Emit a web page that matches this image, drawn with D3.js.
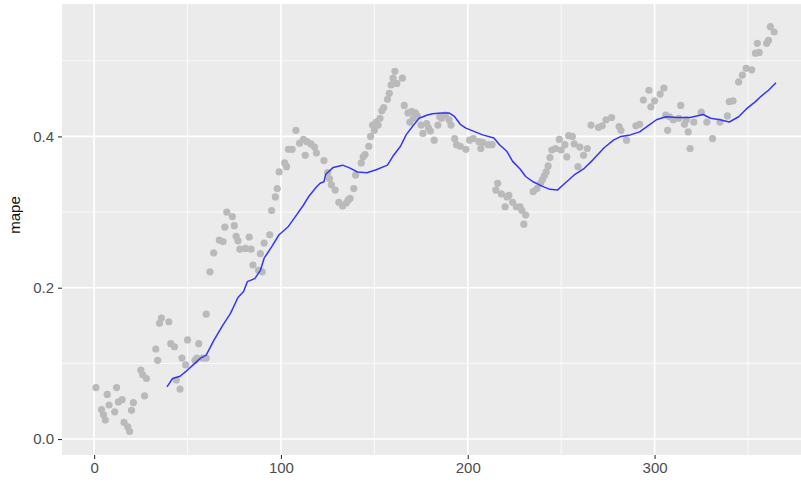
<!DOCTYPE html>
<html>
<head>
<meta charset="utf-8">
<script src="https://cdn.jsdelivr.net/npm/d3@7"></script>
<style>
  body { margin: 0; background: #fff; }
  text { font-family: "Liberation Sans", Arial, sans-serif; }
</style>
</head>
<body>
<svg width="801" height="484"></svg>
<script>
// daily mape points (day, value)
var days = [1, 4, 5, 6, 7, 8, 11, 12, 13, 15, 16, 18, 19, 20, 21, 25, 26, 27, 28, 33,
  34, 35, 36, 40, 41, 43, 44, 46, 47, 49, 50, 54, 55, 56, 58, 60, 60, 62, 64, 67,
  69, 70, 71, 74, 75, 76, 77, 78, 81, 83, 84, 85, 88, 89, 90, 91, 94, 95, 97, 98,
  99, 102, 103, 104, 106, 108, 110, 112, 113, 114, 116, 118, 119, 123, 125, 126, 127, 129, 131, 133,
  135, 136, 137, 139, 140, 143, 144, 145, 147, 148, 149, 150, 151, 152, 153, 154, 155, 157, 158, 159,
  160, 161, 162, 165, 166, 168, 169, 170, 171, 172, 173, 175, 176, 178, 179, 180, 182, 184, 185, 186,
  188, 190, 191, 193, 194, 196, 199, 201, 203, 206, 207, 208, 211, 213, 215, 216, 218, 220, 221, 222,
  224, 226, 228, 229, 230, 231, 235, 237, 239, 240, 241, 242, 243, 244, 245, 247, 249, 250, 252, 253,
  254, 256, 257, 259, 260, 262, 264, 266, 270, 272, 274, 277, 281, 282, 285, 290, 292, 294, 297, 298,
  300, 303, 305, 306, 307, 308, 310, 313, 314, 316, 317, 318, 319, 321, 325, 328, 331, 335, 339, 340,
  342, 345, 347, 349, 352, 354, 355, 356, 360, 361, 362, 364];
var mape = [0.068, 0.039, 0.032, 0.025, 0.059, 0.045, 0.036, 0.068, 0.049, 0.052, 0.022, 0.016, 0.010, 0.038, 0.048, 0.091, 0.085, 0.057, 0.080, 0.119,
  0.104, 0.153, 0.160, 0.155, 0.126, 0.122, 0.078, 0.066, 0.107, 0.098, 0.131, 0.104, 0.107, 0.126, 0.107, 0.107, 0.165, 0.221, 0.246, 0.263,
  0.261, 0.280, 0.300, 0.294, 0.282, 0.268, 0.262, 0.251, 0.252, 0.267, 0.251, 0.230, 0.223, 0.245, 0.221, 0.259, 0.270, 0.302, 0.320, 0.331,
  0.353, 0.365, 0.360, 0.383, 0.383, 0.408, 0.391, 0.396, 0.375, 0.393, 0.390, 0.386, 0.378, 0.368, 0.352, 0.344, 0.336, 0.329, 0.313, 0.308,
  0.312, 0.316, 0.318, 0.331, 0.349, 0.365, 0.373, 0.376, 0.387, 0.400, 0.415, 0.408, 0.419, 0.415, 0.424, 0.434, 0.438, 0.449, 0.457, 0.468,
  0.477, 0.486, 0.470, 0.477, 0.441, 0.431, 0.419, 0.433, 0.424, 0.431, 0.427, 0.415, 0.404, 0.417, 0.411, 0.407, 0.395, 0.415, 0.426, 0.424,
  0.428, 0.422, 0.415, 0.397, 0.389, 0.387, 0.383, 0.395, 0.397, 0.393, 0.384, 0.392, 0.389, 0.389, 0.329, 0.338, 0.324, 0.307, 0.320, 0.322,
  0.313, 0.307, 0.307, 0.302, 0.284, 0.296, 0.327, 0.331, 0.338, 0.343, 0.348, 0.353, 0.361, 0.372, 0.382, 0.384, 0.396, 0.382, 0.389, 0.373,
  0.401, 0.400, 0.390, 0.360, 0.386, 0.375, 0.384, 0.415, 0.412, 0.414, 0.422, 0.425, 0.413, 0.408, 0.395, 0.414, 0.416, 0.448, 0.461, 0.439,
  0.447, 0.456, 0.464, 0.428, 0.408, 0.426, 0.422, 0.424, 0.441, 0.416, 0.422, 0.406, 0.384, 0.419, 0.432, 0.419, 0.397, 0.419, 0.427, 0.446,
  0.447, 0.472, 0.481, 0.490, 0.488, 0.510, 0.523, 0.511, 0.523, 0.527, 0.545, 0.538];

// rolling mean line (blue)
var lineDays = [39, 42, 46, 49, 53, 57, 60, 64, 69, 73, 77, 80, 82, 86, 89, 91, 95, 99, 104, 108,
  112, 115, 119, 121, 123, 124, 128, 133, 137, 141, 146, 151, 157, 160, 164, 167, 171, 174, 178, 181,
  186, 190, 193, 196, 199, 204, 208, 214, 217, 221, 224, 228, 231, 235, 240, 244, 248, 252, 257, 262,
  267, 273, 278, 282, 287, 292, 297, 301, 306, 312, 319, 326, 330, 335, 340, 345, 349, 354, 357, 361, 365];
var lineMape = [0.069, 0.080, 0.083, 0.089, 0.098, 0.107, 0.111, 0.130, 0.151, 0.166, 0.187, 0.195, 0.208, 0.212, 0.223, 0.239, 0.254, 0.270, 0.281, 0.295,
  0.309, 0.321, 0.333, 0.338, 0.340, 0.350, 0.359, 0.362, 0.358, 0.353, 0.352, 0.356, 0.362, 0.374, 0.387, 0.402, 0.415, 0.424, 0.428, 0.430,
  0.431, 0.431, 0.426, 0.416, 0.411, 0.406, 0.402, 0.398, 0.389, 0.380, 0.367, 0.357, 0.347, 0.340, 0.334, 0.330, 0.329, 0.338, 0.349, 0.357,
  0.369, 0.385, 0.395, 0.400, 0.402, 0.406, 0.415, 0.422, 0.426, 0.425, 0.425, 0.429, 0.424, 0.422, 0.419, 0.426, 0.436, 0.446, 0.453, 0.461, 0.471];

var xMajor = [0, 100, 200, 300];
var xMinor = [50, 150, 250, 350];
var yMajor = [0, 0.2, 0.4];
var yMinor = [0.1, 0.3, 0.5];

var svg = d3.select("svg"),
    panel = {left: 62, top: 4, right: 810, bottom: 455};

var x = d3.scaleLinear()
    .domain([-17.2, 383.2])
    .range([panel.left, panel.right]);

var y = d3.scaleLinear()
    .domain([-0.0211, 0.575])
    .range([panel.bottom, panel.top]);

var data = days.map(function(d, i) { return {day: d, mape: mape[i]}; });
var lineData = lineDays.map(function(d, i) { return {day: d, mape: lineMape[i]}; });

svg.append("rect")
    .attr("x", panel.left)
    .attr("y", panel.top)
    .attr("width", panel.right - panel.left)
    .attr("height", panel.bottom - panel.top)
    .attr("fill", "#ebebeb");

var grid = svg.append("g").attr("class", "grid");

grid.selectAll(".ymin").data(yMinor).enter().append("line")
    .attr("x1", panel.left).attr("x2", panel.right)
    .attr("y1", function(d) { return y(d); }).attr("y2", function(d) { return y(d); })
    .attr("stroke", "#fff").attr("stroke-width", 0.8);

grid.selectAll(".xmin").data(xMinor).enter().append("line")
    .attr("y1", panel.top).attr("y2", panel.bottom)
    .attr("x1", function(d) { return x(d); }).attr("x2", function(d) { return x(d); })
    .attr("stroke", "#fff").attr("stroke-width", 0.8);

grid.selectAll(".ymaj").data(yMajor).enter().append("line")
    .attr("x1", panel.left).attr("x2", panel.right)
    .attr("y1", function(d) { return y(d); }).attr("y2", function(d) { return y(d); })
    .attr("stroke", "#fff").attr("stroke-width", 1.6);

grid.selectAll(".xmaj").data(xMajor).enter().append("line")
    .attr("y1", panel.top).attr("y2", panel.bottom)
    .attr("x1", function(d) { return x(d); }).attr("x2", function(d) { return x(d); })
    .attr("stroke", "#fff").attr("stroke-width", 1.6);

svg.append("g")
    .selectAll("circle")
    .data(data).enter().append("circle")
    .attr("cx", function(d) { return x(d.day); })
    .attr("cy", function(d) { return y(d.mape); })
    .attr("r", 3.6)
    .attr("fill", "#bababa");

svg.append("path")
    .datum(lineData)
    .attr("fill", "none")
    .attr("stroke", "#3535f8")
    .attr("stroke-width", 1.5)
    .attr("stroke-linejoin", "round")
    .attr("d", d3.line()
        .x(function(d) { return x(d.day); })
        .y(function(d) { return y(d.mape); }));

// axes, ggplot style
var xAxis = svg.append("g")
    .attr("transform", "translate(0," + panel.bottom + ")")
    .call(d3.axisBottom(x).tickValues(xMajor).tickSize(4).tickPadding(3).tickFormat(d3.format("d")));

var yAxis = svg.append("g")
    .attr("transform", "translate(" + panel.left + ",0)")
    .call(d3.axisLeft(y).tickValues(yMajor).tickSize(4).tickPadding(4).tickFormat(d3.format(".1f")));

[xAxis, yAxis].forEach(function(a) {
  a.select(".domain").remove();
  a.selectAll(".tick line").attr("stroke", "#333").attr("stroke-width", 1.1);
  a.selectAll(".tick text").attr("fill", "#4d4d4d").style("font-size", "15px");
});

svg.append("text")
    .attr("transform", "translate(20,215) rotate(-90)")
    .attr("text-anchor", "middle")
    .attr("fill", "#111")
    .style("font-size", "15px")
    .text("mape");
</script>
</body>
</html>
